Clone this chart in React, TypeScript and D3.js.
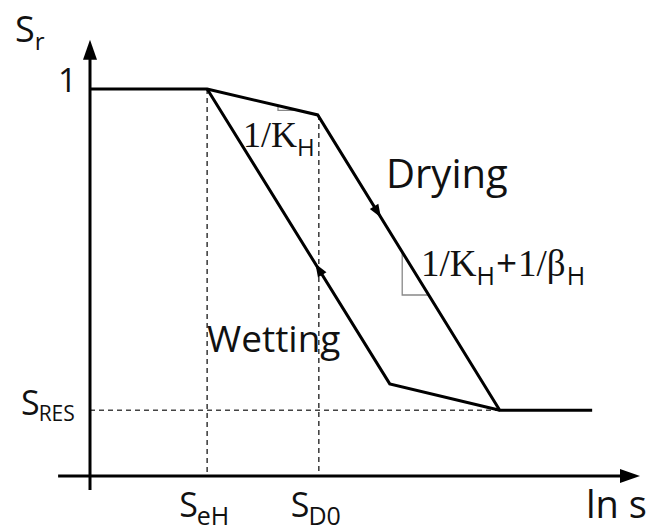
import React from "react";
import * as d3 from "d3";

// Data (x in ln s units, y in Sr)
const xTicks = [
  { key: "SeH", main: "S", sub: "eH", x: 21.3 },
  { key: "SD0", main: "S", sub: "D0", x: 41.6 },
];
const SRES = 0.17;
const dryingPath: [number, number][] = [
  [0, 1],
  [21.3, 1],
  [41.4, 0.933],
  [74.5, SRES],
  [91.3, SRES],
];
const wettingPath: [number, number][] = [
  [21.3, 1],
  [54.5, 0.238],
  [74.5, SRES],
];
const xDomain: [number, number] = [0, 100];
const yDomain: [number, number] = [0, 1];

const W = 649;
const H = 531;

export default function App() {
  const x = d3.scaleLinear().domain(xDomain).range([90, 640]);
  const y = d3.scaleLinear().domain(yDomain).range([476, 89]);
  const line = d3
    .line<[number, number]>()
    .x((d) => x(d[0]))
    .y((d) => y(d[1]));

  const sans = "'Open Sans', 'Noto Sans', sans-serif";
  const serif = "'Liberation Serif', 'DejaVu Serif', serif";

  const midArrow = (a: [number, number], b: [number, number], t: number, key: string) => {
    const ax = x(a[0]), ay = y(a[1]), bx = x(b[0]), by = y(b[1]);
    const px = ax + (bx - ax) * t;
    const py = ay + (by - ay) * t;
    const ang = (Math.atan2(by - ay, bx - ax) * 180) / Math.PI;
    return (
      <path
        key={key}
        d="M6,0 L-7,-5 L-7,5 Z"
        fill="#000"
        transform={`translate(${px},${py}) rotate(${ang})`}
      />
    );
  };

  const x0 = x(0);
  const y0 = y(0);

  const d1a = dryingPath[1], d1b = dryingPath[2];
  const d2a = dryingPath[2], d2b = dryingPath[3];
  const interpY = (a: [number, number], b: [number, number], px: number) => {
    const ax = x(a[0]), ay = y(a[1]), bx = x(b[0]), by = y(b[1]);
    return ay + ((px - ax) / (bx - ax)) * (by - ay);
  };
  const interpX = (a: [number, number], b: [number, number], py: number) => {
    const ax = x(a[0]), ay = y(a[1]), bx = x(b[0]), by = y(b[1]);
    return ax + ((py - ay) / (by - ay)) * (bx - ax);
  };
  const t1x1 = 278, t1x2 = 298;
  const t1y2 = interpY(d1a, d1b, t1x2);
  const t1y1 = interpY(d1a, d1b, t1x1);
  const t2y1 = 252;
  const t2x1 = interpX(d2a, d2b, t2y1);
  const t2y2 = 295;
  const t2x2 = interpX(d2a, d2b, t2y2);

  return (
    <svg
      width={W}
      height={H}
      style={{ position: "absolute", left: 0, top: 0, display: "block", background: "#fff" }}
    >
      {xTicks.map((t) => (
        <line
          key={t.key}
          x1={x(t.x)}
          x2={x(t.x)}
          y1={t.key === "SeH" ? y(1) : y(0.933)}
          y2={y0}
          stroke="#444"
          strokeWidth={1.6}
          strokeDasharray="5,4"
        />
      ))}
      <line
        x1={x0}
        x2={x(74.5)}
        y1={y(SRES)}
        y2={y(SRES)}
        stroke="#444"
        strokeWidth={1.6}
        strokeDasharray="5,4"
      />

      <line x1={x(-5.8)} x2={x(98)} y1={y0} y2={y0} stroke="#000" strokeWidth={3} />
      <path d={`M${x(100)},${y0} L${x(100) - 20},${y0 - 7} L${x(100) - 20},${y0 + 7} Z`} fill="#000" />
      <line x1={x0} x2={x0} y1={y(-0.036)} y2={y(1.1)} stroke="#000" strokeWidth={3} />
      <path d={`M${x0},${y(1.127)} L${x0 - 7},${y(1.127) + 20} L${x0 + 7},${y(1.127) + 20} Z`} fill="#000" />

      <path
        d={`M${t1x1},${t1y1} L${t1x1},${t1y2} L${t1x2},${t1y2}`}
        fill="none"
        stroke="#888"
        strokeWidth={1.3}
      />
      <path
        d={`M${t2x1},${t2y1} L${t2x1},${t2y2} L${t2x2},${t2y2}`}
        fill="none"
        stroke="#888"
        strokeWidth={1.3}
      />

      <path d={line(dryingPath) || ""} fill="none" stroke="#000" strokeWidth={3} strokeLinejoin="miter" />
      <path d={line(wettingPath) || ""} fill="none" stroke="#000" strokeWidth={3} strokeLinejoin="miter" />
      {midArrow(d2a, d2b, 0.33, "a1")}
      {midArrow(wettingPath[1], wettingPath[0], 0.39, "a2")}

      <text x={15} y={42} fontFamily={sans} fontSize={36} fill="#111">
        S
        <tspan fontSize={24} dy={8}>r</tspan>
      </text>
      <text x={58} y={92} fontFamily={sans} fontSize={33} fill="#111">1</text>
      <text x={21} y={415} fontFamily={sans} fontSize={34} fill="#111">
        S
        <tspan fontSize={21} dy={6} dx={-1}>RES</tspan>
      </text>
      {xTicks.map((t) => (
        <text
          key={t.key + "l"}
          x={x(t.x) - 28}
          y={517}
          fontFamily={sans}
          fontSize={34}
          fill="#111"
        >
          {t.main}
          <tspan fontSize={25} dy={8} dx={-1}>{t.sub}</tspan>
        </text>
      ))}
      <text x={586} y={518} fontFamily={sans} fontSize={38} fill="#111">ln s</text>
      <text x={386} y={188} fontFamily={sans} fontSize={40} fill="#111">Drying</text>
      <text x={207} y={352} fontFamily={sans} fontSize={37} fill="#111">Wetting</text>

      <text x={243} y={147} fontFamily={serif} fontSize={36} fill="#111">
        1/K
        <tspan fontFamily={sans} fontSize={24} dy={9}>H</tspan>
      </text>
      <text x={421} y={276} fontFamily={serif} fontSize={37} fill="#111">
        1/K
        <tspan fontFamily={sans} fontSize={25} dy={9}>H</tspan>
        <tspan fontFamily={sans} fontSize={37} dy={-9} dx={1}>+</tspan>
        <tspan dx={1}>1/β</tspan>
        <tspan fontFamily={sans} fontSize={25} dy={9} dx={1}>H</tspan>
      </text>
    </svg>
  );
}
